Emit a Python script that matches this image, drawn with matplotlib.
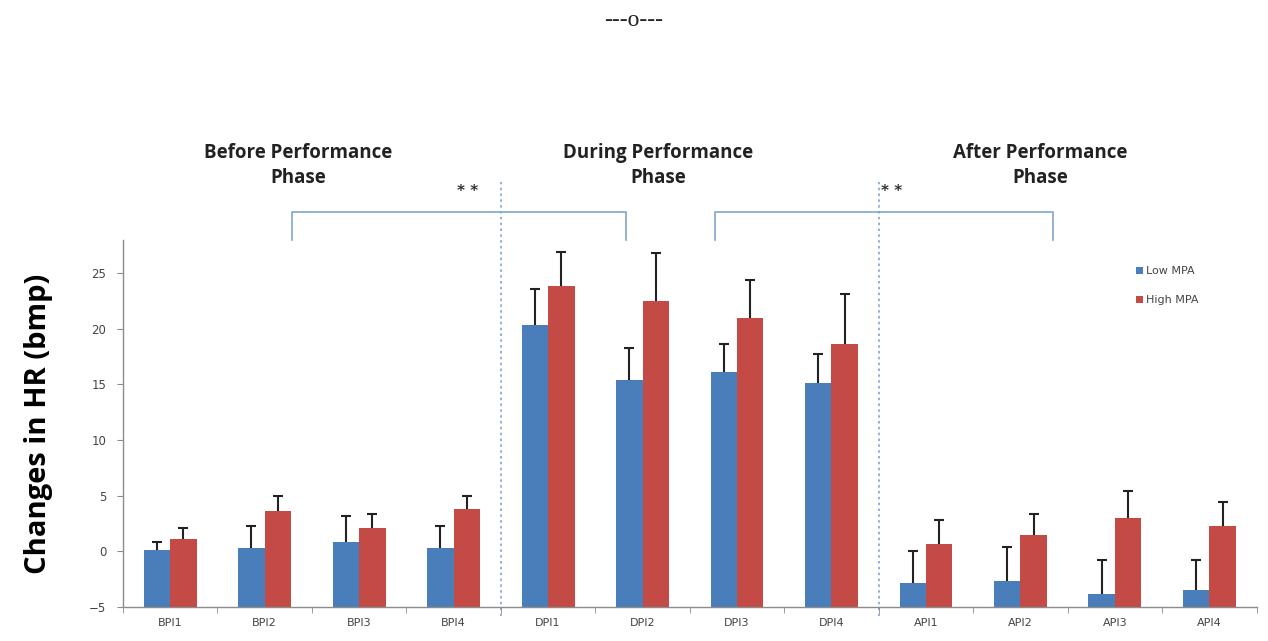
import numpy as np
import matplotlib
matplotlib.use("Agg")
import matplotlib.pyplot as plt

# Data
categories = ["BPI1", "BPI2", "BPI3", "BPI4",
              "DPI1", "DPI2", "DPI3", "DPI4",
              "API1", "API2", "API3", "API4"]
low_mpa = [0.1, 0.3, 0.8, 0.3, 20.3, 15.4, 16.1, 15.1, -2.8, -2.7, -3.8, -3.5]
low_err = [0.75, 2.0, 2.4, 2.0, 3.3, 2.9, 2.5, 2.6, 2.8, 3.1, 3.0, 2.7]
high_mpa = [1.1, 3.6, 2.1, 3.8, 23.8, 22.5, 21.0, 18.6, 0.65, 1.5, 3.0, 2.3]
high_err = [1.0, 1.4, 1.3, 1.2, 3.1, 4.3, 3.4, 4.5, 2.15, 1.9, 2.4, 2.1]
phases = ["Before Performance\nPhase", "During Performance\nPhase",
          "After Performance\nPhase"]

blue = "#4a7ebb"
red = "#c44a45"
grid_col = "#8c8c8c"
line_col = "#7ea6cc"
base = -5  # the category axis crosses at -5, bars grow from there


def main():
    fig = plt.figure(figsize=(12.68, 6.41), dpi=100)
    ax = fig.add_axes([0.097, 0.053, 0.894, 0.573])

    x = np.arange(len(categories))
    w = 0.28
    low = np.array(low_mpa)
    high = np.array(high_mpa)
    ax.bar(x - w / 2, low - base, w, bottom=base, color=blue,
           label="Low MPA", zorder=2)
    ax.bar(x + w / 2, high - base, w, bottom=base, color=red,
           label="High MPA", zorder=2)

    # only the upper half of the error bars is drawn
    for xs, vals, errs in [(x - w / 2, low, low_err), (x + w / 2, high, high_err)]:
        tops = vals + np.array(errs)
        ax.vlines(xs, vals, tops, color="#222222", linewidth=1.5, zorder=3)
        ax.plot(xs, tops, linestyle="none", marker="_", markersize=7,
                markeredgewidth=1.5, color="#222222", zorder=3)

    ax.set_xlim(-0.5, len(categories) - 0.5)
    ax.set_ylim(-5, 28)
    ax.set_yticks([-5, 0, 5, 10, 15, 20, 25])
    ax.set_xticks(x)
    ax.set_xticklabels(categories)
    ax.set_xticks(np.arange(-0.5, len(categories), 1), minor=True)
    ax.tick_params(axis="x", which="major", length=0, pad=8,
                   labelsize=8, labelcolor="#444444")
    ax.tick_params(axis="x", which="minor", length=4, color=grid_col)
    ax.tick_params(axis="y", length=4, color=grid_col, direction="out",
                   labelsize=8.5, labelcolor="#444444", pad=8)

    for side in ["top", "right"]:
        ax.spines[side].set_visible(False)
    for side in ["left", "bottom"]:
        ax.spines[side].set_color(grid_col)
        ax.spines[side].set_linewidth(1)

    ax.set_ylabel("Changes in HR (bmp)", fontsize=21, fontweight="bold",
                  family="Open Sans", labelpad=26)

    # dotted phase separators
    for xs in [3.5, 7.5]:
        ax.plot([xs, xs], [-5.8, 33.2], linestyle=(0, (1.5, 2)),
                color=line_col, linewidth=1.2, clip_on=False, zorder=1)

    # significance brackets
    for x0, x1 in [(1.29, 4.83), (5.77, 9.35)]:
        ax.plot([x0, x0, x1, x1], [28.0, 30.5, 30.5, 28.0], color=line_col,
                linewidth=1.2, clip_on=False)
    for xs in [3.15, 7.64]:
        ax.text(xs, 32.3, "* *", ha="center", va="center", fontsize=11,
                fontweight="bold", color="#333333")

    # phase titles
    for px, label in zip([0.235, 0.519, 0.82], phases):
        fig.text(px, 0.742, label, ha="center", va="center", fontsize=13.5,
                 fontweight="bold", family="Open Sans", linespacing=1.3,
                 color="#222222")

    fig.text(0.5, 0.968, "---o---", ha="center", va="center", fontsize=17,
             family="Liberation Serif", color="#222222")

    ax.legend(loc="upper left", bbox_to_anchor=(0.885, 0.955), frameon=False,
              fontsize=8, handlelength=0.6, handleheight=0.6,
              handletextpad=0.3, labelspacing=1.7, labelcolor="#444444")

    fig.savefig("out.png", dpi=100)


if __name__ == "__main__":
    main()
